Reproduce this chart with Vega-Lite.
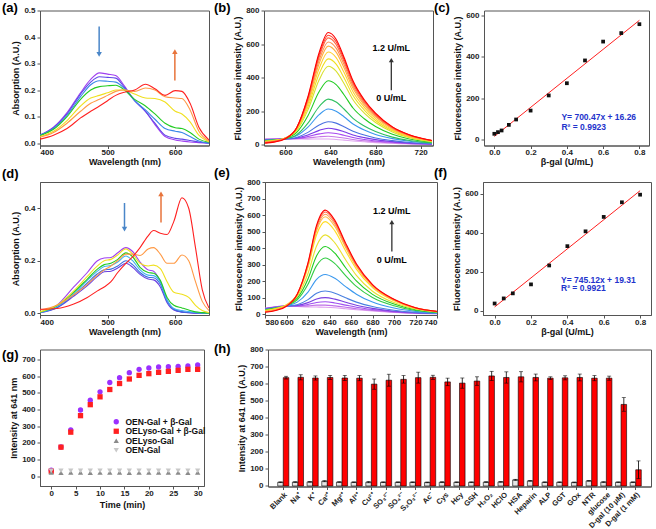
{
"$schema":"https://vega.github.io/schema/vega-lite/v6.json",
"padding":{"left":1,"top":0.5,"right":0,"bottom":0},
"background":"white",
"config":{
 "font":"Liberation Sans",
 "view":{"stroke":"#555","strokeWidth":1},
 "axis":{"domainColor":"#555","tickColor":"#555","tickSize":3,"labelFont":"Liberation Sans","labelFontSize":8,"labelFontWeight":"bold","labelColor":"#222","titleFont":"Liberation Sans","titleFontSize":9,"titleFontWeight":"bold","titleColor":"#111","grid":false,"labelPadding":2,"titlePadding":3,"labelOverlap":false},
 "axisX":{"labelPadding":0,"titlePadding":1},
 "title":{"font":"Liberation Sans","fontSize":13,"fontWeight":"bold","anchor":"start","frame":"group","color":"#000","offset":0,"baseline":"alphabetic"},
 "legend":{"labelFont":"Liberation Sans"}
},
"datasets":{
"ac":[
{"s":"a1","x":400,"y":0.03},{"s":"a1","x":420,"y":0.06},{"s":"a1","x":440,"y":0.115},{"s":"a1","x":460,"y":0.19},{"s":"a1","x":475,"y":0.24},{"s":"a1","x":488,"y":0.265},{"s":"a1","x":500,"y":0.26},{"s":"a1","x":512,"y":0.255},{"s":"a1","x":525,"y":0.215},{"s":"a1","x":540,"y":0.16},{"s":"a1","x":556,"y":0.12},{"s":"a1","x":570,"y":0.07},{"s":"a1","x":585,"y":0.025},{"s":"a1","x":600,"y":0.012},{"s":"a1","x":610,"y":0.008},{"s":"a1","x":622,"y":0.004},{"s":"a1","x":635,"y":0.002},{"s":"a1","x":650,"y":0},
{"s":"a2","x":400,"y":0.03},{"s":"a2","x":420,"y":0.058},{"s":"a2","x":440,"y":0.11},{"s":"a2","x":460,"y":0.185},{"s":"a2","x":475,"y":0.23},{"s":"a2","x":488,"y":0.25},{"s":"a2","x":500,"y":0.248},{"s":"a2","x":512,"y":0.245},{"s":"a2","x":525,"y":0.21},{"s":"a2","x":540,"y":0.16},{"s":"a2","x":556,"y":0.12},{"s":"a2","x":570,"y":0.075},{"s":"a2","x":585,"y":0.03},{"s":"a2","x":600,"y":0.018},{"s":"a2","x":610,"y":0.015},{"s":"a2","x":622,"y":0.01},{"s":"a2","x":635,"y":0.004},{"s":"a2","x":650,"y":0},
{"s":"a3","x":400,"y":0.03},{"s":"a3","x":420,"y":0.055},{"s":"a3","x":440,"y":0.105},{"s":"a3","x":460,"y":0.175},{"s":"a3","x":475,"y":0.22},{"s":"a3","x":488,"y":0.235},{"s":"a3","x":500,"y":0.233},{"s":"a3","x":512,"y":0.23},{"s":"a3","x":525,"y":0.205},{"s":"a3","x":540,"y":0.16},{"s":"a3","x":556,"y":0.125},{"s":"a3","x":570,"y":0.09},{"s":"a3","x":585,"y":0.055},{"s":"a3","x":600,"y":0.045},{"s":"a3","x":610,"y":0.04},{"s":"a3","x":622,"y":0.025},{"s":"a3","x":635,"y":0.008},{"s":"a3","x":650,"y":0},
{"s":"a4","x":400,"y":0.028},{"s":"a4","x":420,"y":0.052},{"s":"a4","x":440,"y":0.1},{"s":"a4","x":460,"y":0.165},{"s":"a4","x":475,"y":0.2},{"s":"a4","x":488,"y":0.213},{"s":"a4","x":500,"y":0.216},{"s":"a4","x":512,"y":0.218},{"s":"a4","x":525,"y":0.2},{"s":"a4","x":540,"y":0.165},{"s":"a4","x":556,"y":0.14},{"s":"a4","x":570,"y":0.11},{"s":"a4","x":585,"y":0.075},{"s":"a4","x":600,"y":0.058},{"s":"a4","x":610,"y":0.055},{"s":"a4","x":622,"y":0.04},{"s":"a4","x":635,"y":0.015},{"s":"a4","x":650,"y":0.003},
{"s":"a5","x":400,"y":0.025},{"s":"a5","x":420,"y":0.045},{"s":"a5","x":440,"y":0.085},{"s":"a5","x":460,"y":0.14},{"s":"a5","x":475,"y":0.17},{"s":"a5","x":488,"y":0.18},{"s":"a5","x":500,"y":0.19},{"s":"a5","x":512,"y":0.2},{"s":"a5","x":525,"y":0.2},{"s":"a5","x":540,"y":0.185},{"s":"a5","x":556,"y":0.17},{"s":"a5","x":570,"y":0.168},{"s":"a5","x":585,"y":0.155},{"s":"a5","x":600,"y":0.12},{"s":"a5","x":610,"y":0.11},{"s":"a5","x":622,"y":0.08},{"s":"a5","x":635,"y":0.03},{"s":"a5","x":650,"y":0.005},
{"s":"a6","x":400,"y":0.022},{"s":"a6","x":420,"y":0.04},{"s":"a6","x":440,"y":0.075},{"s":"a6","x":460,"y":0.12},{"s":"a6","x":475,"y":0.15},{"s":"a6","x":488,"y":0.165},{"s":"a6","x":500,"y":0.18},{"s":"a6","x":512,"y":0.195},{"s":"a6","x":525,"y":0.2},{"s":"a6","x":540,"y":0.195},{"s":"a6","x":556,"y":0.208},{"s":"a6","x":570,"y":0.2},{"s":"a6","x":585,"y":0.175},{"s":"a6","x":600,"y":0.17},{"s":"a6","x":610,"y":0.168},{"s":"a6","x":622,"y":0.125},{"s":"a6","x":635,"y":0.045},{"s":"a6","x":650,"y":0.008},
{"s":"a7","x":400,"y":0.015},{"s":"a7","x":420,"y":0.03},{"s":"a7","x":440,"y":0.055},{"s":"a7","x":460,"y":0.095},{"s":"a7","x":475,"y":0.12},{"s":"a7","x":488,"y":0.14},{"s":"a7","x":500,"y":0.16},{"s":"a7","x":512,"y":0.18},{"s":"a7","x":525,"y":0.192},{"s":"a7","x":540,"y":0.2},{"s":"a7","x":556,"y":0.222},{"s":"a7","x":570,"y":0.205},{"s":"a7","x":585,"y":0.18},{"s":"a7","x":600,"y":0.198},{"s":"a7","x":610,"y":0.195},{"s":"a7","x":622,"y":0.15},{"s":"a7","x":635,"y":0.06},{"s":"a7","x":650,"y":0.012}
],
"bc":[
{"s":"b01","x":582,"y":35},{"s":"b01","x":590,"y":36},{"s":"b01","x":600,"y":37},{"s":"b01","x":610,"y":36},{"s":"b01","x":620,"y":35},{"s":"b01","x":630,"y":36},{"s":"b01","x":638,"y":36},{"s":"b01","x":645,"y":33},{"s":"b01","x":652,"y":29},{"s":"b01","x":660,"y":24},{"s":"b01","x":670,"y":19},{"s":"b01","x":680,"y":14},{"s":"b01","x":695,"y":10},{"s":"b01","x":710,"y":6},{"s":"b01","x":730,"y":3},
{"s":"b02","x":582,"y":35},{"s":"b02","x":590,"y":36},{"s":"b02","x":600,"y":37},{"s":"b02","x":610,"y":38},{"s":"b02","x":620,"y":42},{"s":"b02","x":630,"y":49},{"s":"b02","x":638,"y":52},{"s":"b02","x":645,"y":48},{"s":"b02","x":652,"y":42},{"s":"b02","x":660,"y":33},{"s":"b02","x":670,"y":25},{"s":"b02","x":680,"y":19},{"s":"b02","x":695,"y":12},{"s":"b02","x":710,"y":8},{"s":"b02","x":730,"y":4},
{"s":"b03","x":582,"y":33},{"s":"b03","x":590,"y":35},{"s":"b03","x":600,"y":36},{"s":"b03","x":610,"y":39},{"s":"b03","x":620,"y":50},{"s":"b03","x":630,"y":66},{"s":"b03","x":638,"y":73},{"s":"b03","x":645,"y":68},{"s":"b03","x":652,"y":58},{"s":"b03","x":660,"y":45},{"s":"b03","x":670,"y":33},{"s":"b03","x":680,"y":24},{"s":"b03","x":695,"y":16},{"s":"b03","x":710,"y":9},{"s":"b03","x":730,"y":5},
{"s":"b04","x":582,"y":32},{"s":"b04","x":590,"y":33},{"s":"b04","x":600,"y":36},{"s":"b04","x":610,"y":42},{"s":"b04","x":620,"y":60},{"s":"b04","x":630,"y":87},{"s":"b04","x":638,"y":100},{"s":"b04","x":645,"y":93},{"s":"b04","x":652,"y":79},{"s":"b04","x":660,"y":60},{"s":"b04","x":670,"y":44},{"s":"b04","x":680,"y":32},{"s":"b04","x":695,"y":20},{"s":"b04","x":710,"y":12},{"s":"b04","x":730,"y":6},
{"s":"b05","x":582,"y":30},{"s":"b05","x":590,"y":32},{"s":"b05","x":600,"y":35},{"s":"b05","x":610,"y":45},{"s":"b05","x":620,"y":75},{"s":"b05","x":630,"y":119},{"s":"b05","x":638,"y":138},{"s":"b05","x":645,"y":130},{"s":"b05","x":652,"y":109},{"s":"b05","x":660,"y":82},{"s":"b05","x":670,"y":59},{"s":"b05","x":680,"y":42},{"s":"b05","x":695,"y":26},{"s":"b05","x":710,"y":15},{"s":"b05","x":730,"y":7},
{"s":"b06","x":582,"y":28},{"s":"b06","x":590,"y":31},{"s":"b06","x":600,"y":37},{"s":"b06","x":610,"y":55},{"s":"b06","x":620,"y":106},{"s":"b06","x":630,"y":181},{"s":"b06","x":638,"y":214},{"s":"b06","x":645,"y":201},{"s":"b06","x":652,"y":168},{"s":"b06","x":660,"y":125},{"s":"b06","x":670,"y":89},{"s":"b06","x":680,"y":63},{"s":"b06","x":695,"y":38},{"s":"b06","x":710,"y":22},{"s":"b06","x":730,"y":10},
{"s":"b07","x":582,"y":26},{"s":"b07","x":590,"y":30},{"s":"b07","x":600,"y":37},{"s":"b07","x":610,"y":61},{"s":"b07","x":620,"y":130},{"s":"b07","x":630,"y":229},{"s":"b07","x":638,"y":273},{"s":"b07","x":645,"y":256},{"s":"b07","x":652,"y":214},{"s":"b07","x":660,"y":158},{"s":"b07","x":670,"y":113},{"s":"b07","x":680,"y":80},{"s":"b07","x":695,"y":47},{"s":"b07","x":710,"y":27},{"s":"b07","x":730,"y":12},
{"s":"b08","x":582,"y":25},{"s":"b08","x":590,"y":29},{"s":"b08","x":600,"y":40},{"s":"b08","x":610,"y":75},{"s":"b08","x":620,"y":174},{"s":"b08","x":630,"y":318},{"s":"b08","x":638,"y":382},{"s":"b08","x":645,"y":359},{"s":"b08","x":652,"y":299},{"s":"b08","x":660,"y":220},{"s":"b08","x":670,"y":156},{"s":"b08","x":680,"y":110},{"s":"b08","x":695,"y":64},{"s":"b08","x":710,"y":36},{"s":"b08","x":730,"y":17},
{"s":"b09","x":582,"y":23},{"s":"b09","x":590,"y":28},{"s":"b09","x":600,"y":42},{"s":"b09","x":610,"y":85},{"s":"b09","x":620,"y":209},{"s":"b09","x":630,"y":388},{"s":"b09","x":638,"y":468},{"s":"b09","x":645,"y":439},{"s":"b09","x":652,"y":366},{"s":"b09","x":660,"y":269},{"s":"b09","x":670,"y":190},{"s":"b09","x":680,"y":134},{"s":"b09","x":695,"y":78},{"s":"b09","x":710,"y":44},{"s":"b09","x":730,"y":20},
{"s":"b10","x":582,"y":21},{"s":"b10","x":590,"y":27},{"s":"b10","x":600,"y":42},{"s":"b10","x":610,"y":90},{"s":"b10","x":620,"y":227},{"s":"b10","x":630,"y":424},{"s":"b10","x":638,"y":512},{"s":"b10","x":645,"y":481},{"s":"b10","x":652,"y":400},{"s":"b10","x":660,"y":294},{"s":"b10","x":670,"y":208},{"s":"b10","x":680,"y":146},{"s":"b10","x":695,"y":85},{"s":"b10","x":710,"y":48},{"s":"b10","x":730,"y":22},
{"s":"b11","x":582,"y":19},{"s":"b11","x":590,"y":25},{"s":"b11","x":600,"y":41},{"s":"b11","x":610,"y":94},{"s":"b11","x":620,"y":243},{"s":"b11","x":630,"y":457},{"s":"b11","x":638,"y":553},{"s":"b11","x":645,"y":520},{"s":"b11","x":652,"y":432},{"s":"b11","x":660,"y":317},{"s":"b11","x":670,"y":224},{"s":"b11","x":680,"y":157},{"s":"b11","x":695,"y":91},{"s":"b11","x":710,"y":51},{"s":"b11","x":730,"y":23},
{"s":"b12","x":582,"y":18},{"s":"b12","x":590,"y":24},{"s":"b12","x":600,"y":41},{"s":"b12","x":610,"y":98},{"s":"b12","x":620,"y":257},{"s":"b12","x":630,"y":485},{"s":"b12","x":638,"y":588},{"s":"b12","x":645,"y":552},{"s":"b12","x":652,"y":459},{"s":"b12","x":660,"y":337},{"s":"b12","x":670,"y":237},{"s":"b12","x":680,"y":167},{"s":"b12","x":695,"y":96},{"s":"b12","x":710,"y":54},{"s":"b12","x":730,"y":25},
{"s":"b13","x":582,"y":16},{"s":"b13","x":590,"y":22},{"s":"b13","x":600,"y":40},{"s":"b13","x":610,"y":100},{"s":"b13","x":620,"y":266},{"s":"b13","x":630,"y":505},{"s":"b13","x":638,"y":613},{"s":"b13","x":645,"y":576},{"s":"b13","x":652,"y":479},{"s":"b13","x":660,"y":351},{"s":"b13","x":670,"y":247},{"s":"b13","x":680,"y":174},{"s":"b13","x":695,"y":100},{"s":"b13","x":710,"y":56},{"s":"b13","x":730,"y":26},
{"s":"b14","x":582,"y":14},{"s":"b14","x":590,"y":21},{"s":"b14","x":600,"y":40},{"s":"b14","x":610,"y":101},{"s":"b14","x":620,"y":275},{"s":"b14","x":630,"y":525},{"s":"b14","x":638,"y":637},{"s":"b14","x":645,"y":598},{"s":"b14","x":652,"y":497},{"s":"b14","x":660,"y":364},{"s":"b14","x":670,"y":256},{"s":"b14","x":680,"y":180},{"s":"b14","x":695,"y":104},{"s":"b14","x":710,"y":58},{"s":"b14","x":730,"y":26},
{"s":"b15","x":582,"y":12},{"s":"b15","x":590,"y":19},{"s":"b15","x":600,"y":38},{"s":"b15","x":610,"y":102},{"s":"b15","x":620,"y":281},{"s":"b15","x":630,"y":538},{"s":"b15","x":638,"y":653},{"s":"b15","x":645,"y":614},{"s":"b15","x":652,"y":510},{"s":"b15","x":660,"y":374},{"s":"b15","x":670,"y":263},{"s":"b15","x":680,"y":185},{"s":"b15","x":695,"y":106},{"s":"b15","x":710,"y":60},{"s":"b15","x":730,"y":27},
{"s":"b16","x":582,"y":11},{"s":"b16","x":590,"y":17},{"s":"b16","x":600,"y":37},{"s":"b16","x":610,"y":103},{"s":"b16","x":620,"y":287},{"s":"b16","x":630,"y":551},{"s":"b16","x":638,"y":669},{"s":"b16","x":645,"y":629},{"s":"b16","x":652,"y":522},{"s":"b16","x":660,"y":382},{"s":"b16","x":670,"y":269},{"s":"b16","x":680,"y":189},{"s":"b16","x":695,"y":108},{"s":"b16","x":710,"y":61},{"s":"b16","x":730,"y":27}
],
"dc":[
{"s":"d1","x":400,"y":0.002},{"s":"d1","x":425,"y":0.03},{"s":"d1","x":450,"y":0.1},{"s":"d1","x":470,"y":0.155},{"s":"d1","x":485,"y":0.2},{"s":"d1","x":495,"y":0.21},{"s":"d1","x":505,"y":0.212},{"s":"d1","x":515,"y":0.23},{"s":"d1","x":527,"y":0.25},{"s":"d1","x":537,"y":0.235},{"s":"d1","x":548,"y":0.195},{"s":"d1","x":560,"y":0.165},{"s":"d1","x":568,"y":0.16},{"s":"d1","x":578,"y":0.12},{"s":"d1","x":588,"y":0.05},{"s":"d1","x":598,"y":0.015},{"s":"d1","x":610,"y":0.005},{"s":"d1","x":620,"y":0.002},{"s":"d1","x":630,"y":0.001},{"s":"d1","x":640,"y":0},{"s":"d1","x":650,"y":0},
{"s":"d2","x":400,"y":0.002},{"s":"d2","x":425,"y":0.02},{"s":"d2","x":450,"y":0.065},{"s":"d2","x":470,"y":0.105},{"s":"d2","x":485,"y":0.14},{"s":"d2","x":495,"y":0.158},{"s":"d2","x":505,"y":0.16},{"s":"d2","x":515,"y":0.172},{"s":"d2","x":527,"y":0.19},{"s":"d2","x":537,"y":0.175},{"s":"d2","x":548,"y":0.148},{"s":"d2","x":560,"y":0.13},{"s":"d2","x":568,"y":0.127},{"s":"d2","x":578,"y":0.1},{"s":"d2","x":588,"y":0.04},{"s":"d2","x":598,"y":0.012},{"s":"d2","x":610,"y":0.004},{"s":"d2","x":620,"y":0.002},{"s":"d2","x":630,"y":0},{"s":"d2","x":640,"y":0},{"s":"d2","x":650,"y":0},
{"s":"d3","x":400,"y":0.003},{"s":"d3","x":425,"y":0.022},{"s":"d3","x":450,"y":0.07},{"s":"d3","x":470,"y":0.115},{"s":"d3","x":485,"y":0.15},{"s":"d3","x":495,"y":0.165},{"s":"d3","x":505,"y":0.168},{"s":"d3","x":515,"y":0.18},{"s":"d3","x":527,"y":0.2},{"s":"d3","x":537,"y":0.185},{"s":"d3","x":548,"y":0.155},{"s":"d3","x":560,"y":0.137},{"s":"d3","x":568,"y":0.135},{"s":"d3","x":578,"y":0.11},{"s":"d3","x":588,"y":0.045},{"s":"d3","x":598,"y":0.015},{"s":"d3","x":610,"y":0.005},{"s":"d3","x":620,"y":0.003},{"s":"d3","x":630,"y":0.001},{"s":"d3","x":640,"y":0},{"s":"d3","x":650,"y":0},
{"s":"d4","x":400,"y":0.003},{"s":"d4","x":425,"y":0.025},{"s":"d4","x":450,"y":0.075},{"s":"d4","x":470,"y":0.125},{"s":"d4","x":485,"y":0.16},{"s":"d4","x":495,"y":0.178},{"s":"d4","x":505,"y":0.182},{"s":"d4","x":515,"y":0.195},{"s":"d4","x":527,"y":0.218},{"s":"d4","x":537,"y":0.2},{"s":"d4","x":548,"y":0.165},{"s":"d4","x":560,"y":0.145},{"s":"d4","x":568,"y":0.143},{"s":"d4","x":578,"y":0.118},{"s":"d4","x":588,"y":0.05},{"s":"d4","x":598,"y":0.018},{"s":"d4","x":610,"y":0.01},{"s":"d4","x":620,"y":0.006},{"s":"d4","x":630,"y":0.003},{"s":"d4","x":640,"y":0.001},{"s":"d4","x":650,"y":0},
{"s":"d5","x":400,"y":0.004},{"s":"d5","x":425,"y":0.028},{"s":"d5","x":450,"y":0.08},{"s":"d5","x":470,"y":0.13},{"s":"d5","x":485,"y":0.168},{"s":"d5","x":495,"y":0.185},{"s":"d5","x":505,"y":0.19},{"s":"d5","x":515,"y":0.205},{"s":"d5","x":527,"y":0.23},{"s":"d5","x":537,"y":0.215},{"s":"d5","x":548,"y":0.175},{"s":"d5","x":560,"y":0.155},{"s":"d5","x":568,"y":0.152},{"s":"d5","x":578,"y":0.125},{"s":"d5","x":588,"y":0.06},{"s":"d5","x":598,"y":0.03},{"s":"d5","x":610,"y":0.02},{"s":"d5","x":620,"y":0.012},{"s":"d5","x":630,"y":0.005},{"s":"d5","x":640,"y":0.002},{"s":"d5","x":650,"y":0},
{"s":"d6","x":400,"y":0.005},{"s":"d6","x":425,"y":0.03},{"s":"d6","x":450,"y":0.085},{"s":"d6","x":470,"y":0.14},{"s":"d6","x":485,"y":0.18},{"s":"d6","x":495,"y":0.2},{"s":"d6","x":505,"y":0.205},{"s":"d6","x":515,"y":0.222},{"s":"d6","x":527,"y":0.245},{"s":"d6","x":537,"y":0.225},{"s":"d6","x":548,"y":0.19},{"s":"d6","x":560,"y":0.18},{"s":"d6","x":568,"y":0.183},{"s":"d6","x":578,"y":0.17},{"s":"d6","x":588,"y":0.12},{"s":"d6","x":598,"y":0.08},{"s":"d6","x":610,"y":0.072},{"s":"d6","x":620,"y":0.06},{"s":"d6","x":630,"y":0.03},{"s":"d6","x":640,"y":0.01},{"s":"d6","x":650,"y":0.002},
{"s":"d7","x":400,"y":0.012},{"s":"d7","x":425,"y":0.03},{"s":"d7","x":450,"y":0.07},{"s":"d7","x":470,"y":0.11},{"s":"d7","x":485,"y":0.145},{"s":"d7","x":495,"y":0.165},{"s":"d7","x":505,"y":0.18},{"s":"d7","x":515,"y":0.2},{"s":"d7","x":527,"y":0.225},{"s":"d7","x":537,"y":0.225},{"s":"d7","x":548,"y":0.22},{"s":"d7","x":560,"y":0.245},{"s":"d7","x":568,"y":0.25},{"s":"d7","x":578,"y":0.225},{"s":"d7","x":588,"y":0.19},{"s":"d7","x":598,"y":0.19},{"s":"d7","x":610,"y":0.222},{"s":"d7","x":620,"y":0.2},{"s":"d7","x":630,"y":0.12},{"s":"d7","x":640,"y":0.045},{"s":"d7","x":650,"y":0.01},
{"s":"d8","x":400,"y":0.015},{"s":"d8","x":425,"y":0.018},{"s":"d8","x":450,"y":0.035},{"s":"d8","x":470,"y":0.06},{"s":"d8","x":485,"y":0.085},{"s":"d8","x":495,"y":0.1},{"s":"d8","x":505,"y":0.12},{"s":"d8","x":515,"y":0.155},{"s":"d8","x":527,"y":0.19},{"s":"d8","x":537,"y":0.215},{"s":"d8","x":548,"y":0.25},{"s":"d8","x":560,"y":0.295},{"s":"d8","x":568,"y":0.315},{"s":"d8","x":578,"y":0.305},{"s":"d8","x":588,"y":0.3},{"s":"d8","x":598,"y":0.35},{"s":"d8","x":610,"y":0.44},{"s":"d8","x":620,"y":0.4},{"s":"d8","x":630,"y":0.25},{"s":"d8","x":640,"y":0.09},{"s":"d8","x":650,"y":0.02}
],
"ec":[
{"s":"e01","x":580,"y":35},{"s":"e01","x":590,"y":45},{"s":"e01","x":600,"y":50},{"s":"e01","x":610,"y":47},{"s":"e01","x":620,"y":44},{"s":"e01","x":628,"y":43},{"s":"e01","x":636,"y":42},{"s":"e01","x":645,"y":39},{"s":"e01","x":655,"y":33},{"s":"e01","x":665,"y":27},{"s":"e01","x":680,"y":19},{"s":"e01","x":700,"y":11},{"s":"e01","x":720,"y":5},{"s":"e01","x":740,"y":3},
{"s":"e02","x":580,"y":35},{"s":"e02","x":590,"y":45},{"s":"e02","x":600,"y":51},{"s":"e02","x":610,"y":49},{"s":"e02","x":620,"y":50},{"s":"e02","x":628,"y":55},{"s":"e02","x":636,"y":55},{"s":"e02","x":645,"y":50},{"s":"e02","x":655,"y":42},{"s":"e02","x":665,"y":33},{"s":"e02","x":680,"y":23},{"s":"e02","x":700,"y":12},{"s":"e02","x":720,"y":6},{"s":"e02","x":740,"y":3},
{"s":"e03","x":580,"y":33},{"s":"e03","x":590,"y":43},{"s":"e03","x":600,"y":50},{"s":"e03","x":610,"y":50},{"s":"e03","x":620,"y":59},{"s":"e03","x":628,"y":71},{"s":"e03","x":636,"y":75},{"s":"e03","x":645,"y":68},{"s":"e03","x":655,"y":55},{"s":"e03","x":665,"y":42},{"s":"e03","x":680,"y":28},{"s":"e03","x":700,"y":15},{"s":"e03","x":720,"y":7},{"s":"e03","x":740,"y":4},
{"s":"e04","x":580,"y":32},{"s":"e04","x":590,"y":41},{"s":"e04","x":600,"y":48},{"s":"e04","x":610,"y":53},{"s":"e04","x":620,"y":70},{"s":"e04","x":628,"y":92},{"s":"e04","x":636,"y":100},{"s":"e04","x":645,"y":91},{"s":"e04","x":655,"y":72},{"s":"e04","x":665,"y":54},{"s":"e04","x":680,"y":35},{"s":"e04","x":700,"y":18},{"s":"e04","x":720,"y":9},{"s":"e04","x":740,"y":4},
{"s":"e05","x":580,"y":30},{"s":"e05","x":590,"y":39},{"s":"e05","x":600,"y":48},{"s":"e05","x":610,"y":57},{"s":"e05","x":620,"y":88},{"s":"e05","x":628,"y":126},{"s":"e05","x":636,"y":140},{"s":"e05","x":645,"y":127},{"s":"e05","x":655,"y":99},{"s":"e05","x":665,"y":73},{"s":"e05","x":680,"y":46},{"s":"e05","x":700,"y":24},{"s":"e05","x":720,"y":11},{"s":"e05","x":740,"y":5},
{"s":"e06","x":580,"y":28},{"s":"e06","x":590,"y":38},{"s":"e06","x":600,"y":51},{"s":"e06","x":610,"y":73},{"s":"e06","x":620,"y":134},{"s":"e06","x":628,"y":211},{"s":"e06","x":636,"y":240},{"s":"e06","x":645,"y":217},{"s":"e06","x":655,"y":167},{"s":"e06","x":665,"y":121},{"s":"e06","x":680,"y":73},{"s":"e06","x":700,"y":37},{"s":"e06","x":720,"y":17},{"s":"e06","x":740,"y":8},
{"s":"e07","x":580,"y":26},{"s":"e07","x":590,"y":37},{"s":"e07","x":600,"y":53},{"s":"e07","x":610,"y":87},{"s":"e07","x":620,"y":181},{"s":"e07","x":628,"y":294},{"s":"e07","x":636,"y":340},{"s":"e07","x":645,"y":306},{"s":"e07","x":655,"y":234},{"s":"e07","x":665,"y":168},{"s":"e07","x":680,"y":101},{"s":"e07","x":700,"y":51},{"s":"e07","x":720,"y":22},{"s":"e07","x":740,"y":10},
{"s":"e08","x":580,"y":25},{"s":"e08","x":590,"y":35},{"s":"e08","x":600,"y":54},{"s":"e08","x":610,"y":97},{"s":"e08","x":620,"y":213},{"s":"e08","x":628,"y":354},{"s":"e08","x":636,"y":410},{"s":"e08","x":645,"y":369},{"s":"e08","x":655,"y":281},{"s":"e08","x":665,"y":201},{"s":"e08","x":680,"y":120},{"s":"e08","x":700,"y":61},{"s":"e08","x":720,"y":27},{"s":"e08","x":740,"y":12},
{"s":"e09","x":580,"y":23},{"s":"e09","x":590,"y":34},{"s":"e09","x":600,"y":55},{"s":"e09","x":610,"y":107},{"s":"e09","x":620,"y":246},{"s":"e09","x":628,"y":413},{"s":"e09","x":636,"y":480},{"s":"e09","x":645,"y":432},{"s":"e09","x":655,"y":329},{"s":"e09","x":665,"y":235},{"s":"e09","x":680,"y":139},{"s":"e09","x":700,"y":70},{"s":"e09","x":720,"y":31},{"s":"e09","x":740,"y":13},
{"s":"e10","x":580,"y":21},{"s":"e10","x":590,"y":32},{"s":"e10","x":600,"y":57},{"s":"e10","x":610,"y":119},{"s":"e10","x":620,"y":283},{"s":"e10","x":628,"y":481},{"s":"e10","x":636,"y":560},{"s":"e10","x":645,"y":504},{"s":"e10","x":655,"y":383},{"s":"e10","x":665,"y":273},{"s":"e10","x":680,"y":161},{"s":"e10","x":700,"y":81},{"s":"e10","x":720,"y":35},{"s":"e10","x":740,"y":15},
{"s":"e11","x":580,"y":18},{"s":"e11","x":590,"y":28},{"s":"e11","x":600,"y":54},{"s":"e11","x":610,"y":120},{"s":"e11","x":620,"y":295},{"s":"e11","x":628,"y":505},{"s":"e11","x":636,"y":590},{"s":"e11","x":645,"y":531},{"s":"e11","x":655,"y":403},{"s":"e11","x":665,"y":287},{"s":"e11","x":680,"y":169},{"s":"e11","x":700,"y":85},{"s":"e11","x":720,"y":37},{"s":"e11","x":740,"y":16},
{"s":"e12","x":580,"y":16},{"s":"e12","x":590,"y":26},{"s":"e12","x":600,"y":52},{"s":"e12","x":610,"y":121},{"s":"e12","x":620,"y":301},{"s":"e12","x":628,"y":518},{"s":"e12","x":636,"y":605},{"s":"e12","x":645,"y":545},{"s":"e12","x":655,"y":413},{"s":"e12","x":665,"y":294},{"s":"e12","x":680,"y":173},{"s":"e12","x":700,"y":87},{"s":"e12","x":720,"y":38},{"s":"e12","x":740,"y":16},
{"s":"e13","x":580,"y":14},{"s":"e13","x":590,"y":24},{"s":"e13","x":600,"y":50},{"s":"e13","x":610,"y":121},{"s":"e13","x":620,"y":306},{"s":"e13","x":628,"y":529},{"s":"e13","x":636,"y":618},{"s":"e13","x":645,"y":557},{"s":"e13","x":655,"y":422},{"s":"e13","x":665,"y":299},{"s":"e13","x":680,"y":176},{"s":"e13","x":700,"y":88},{"s":"e13","x":720,"y":38},{"s":"e13","x":740,"y":16},
{"s":"e14","x":580,"y":12},{"s":"e14","x":590,"y":22},{"s":"e14","x":600,"y":48},{"s":"e14","x":610,"y":121},{"s":"e14","x":620,"y":311},{"s":"e14","x":628,"y":539},{"s":"e14","x":636,"y":630},{"s":"e14","x":645,"y":568},{"s":"e14","x":655,"y":430},{"s":"e14","x":665,"y":305},{"s":"e14","x":680,"y":179},{"s":"e14","x":700,"y":90},{"s":"e14","x":720,"y":39},{"s":"e14","x":740,"y":17}
],
"cp":[{"x":0,"y":29},{"x":0.02,"y":37},{"x":0.04,"y":45},{"x":0.08,"y":72},{"x":0.12,"y":98},{"x":0.2,"y":141},{"x":0.3,"y":214},{"x":0.4,"y":273},{"x":0.5,"y":383},{"x":0.6,"y":474},{"x":0.7,"y":515},{"x":0.8,"y":558}],
"cl":[{"x":0,"y":16.26},{"x":0.8,"y":576.64}],
"fp":[{"x":0,"y":37},{"x":0.05,"y":63},{"x":0.1,"y":89},{"x":0.2,"y":135},{"x":0.3,"y":232},{"x":0.4,"y":331},{"x":0.5,"y":407},{"x":0.6,"y":481},{"x":0.7,"y":556},{"x":0.8,"y":595}],
"fl":[{"x":0,"y":19.31},{"x":0.8,"y":615.41}],
"gd":[
{"s":"OEN-Gal + β-Gal","t":0,"y":36},{"s":"OEN-Gal + β-Gal","t":2,"y":175},{"s":"OEN-Gal + β-Gal","t":4,"y":278},{"s":"OEN-Gal + β-Gal","t":6,"y":397},{"s":"OEN-Gal + β-Gal","t":8,"y":456},{"s":"OEN-Gal + β-Gal","t":10,"y":506},{"s":"OEN-Gal + β-Gal","t":12,"y":562},{"s":"OEN-Gal + β-Gal","t":14,"y":591},{"s":"OEN-Gal + β-Gal","t":16,"y":621},{"s":"OEN-Gal + β-Gal","t":18,"y":641},{"s":"OEN-Gal + β-Gal","t":20,"y":649},{"s":"OEN-Gal + β-Gal","t":22,"y":655},{"s":"OEN-Gal + β-Gal","t":24,"y":657},{"s":"OEN-Gal + β-Gal","t":26,"y":659},{"s":"OEN-Gal + β-Gal","t":28,"y":661},{"s":"OEN-Gal + β-Gal","t":30,"y":667},
{"s":"OELyso-Gal + β-Gal","t":0,"y":30},{"s":"OELyso-Gal + β-Gal","t":2,"y":174},{"s":"OELyso-Gal + β-Gal","t":4,"y":264},{"s":"OELyso-Gal + β-Gal","t":6,"y":363},{"s":"OELyso-Gal + β-Gal","t":8,"y":429},{"s":"OELyso-Gal + β-Gal","t":10,"y":476},{"s":"OELyso-Gal + β-Gal","t":12,"y":520},{"s":"OELyso-Gal + β-Gal","t":14,"y":556},{"s":"OELyso-Gal + β-Gal","t":16,"y":583},{"s":"OELyso-Gal + β-Gal","t":18,"y":605},{"s":"OELyso-Gal + β-Gal","t":20,"y":615},{"s":"OELyso-Gal + β-Gal","t":22,"y":623},{"s":"OELyso-Gal + β-Gal","t":24,"y":629},{"s":"OELyso-Gal + β-Gal","t":26,"y":635},{"s":"OELyso-Gal + β-Gal","t":28,"y":641},{"s":"OELyso-Gal + β-Gal","t":30,"y":641},
{"s":"OELyso-Gal","t":0,"y":22},{"s":"OELyso-Gal","t":2,"y":21},{"s":"OELyso-Gal","t":4,"y":22},{"s":"OELyso-Gal","t":6,"y":22},{"s":"OELyso-Gal","t":8,"y":21},{"s":"OELyso-Gal","t":10,"y":22},{"s":"OELyso-Gal","t":12,"y":22},{"s":"OELyso-Gal","t":14,"y":22},{"s":"OELyso-Gal","t":16,"y":21},{"s":"OELyso-Gal","t":18,"y":22},{"s":"OELyso-Gal","t":20,"y":22},{"s":"OELyso-Gal","t":22,"y":22},{"s":"OELyso-Gal","t":24,"y":22},{"s":"OELyso-Gal","t":26,"y":22},{"s":"OELyso-Gal","t":28,"y":21},{"s":"OELyso-Gal","t":30,"y":22},
{"s":"OEN-Gal","t":0,"y":33},{"s":"OEN-Gal","t":2,"y":32},{"s":"OEN-Gal","t":4,"y":33},{"s":"OEN-Gal","t":6,"y":33},{"s":"OEN-Gal","t":8,"y":32},{"s":"OEN-Gal","t":10,"y":33},{"s":"OEN-Gal","t":12,"y":33},{"s":"OEN-Gal","t":14,"y":33},{"s":"OEN-Gal","t":16,"y":32},{"s":"OEN-Gal","t":18,"y":33},{"s":"OEN-Gal","t":20,"y":33},{"s":"OEN-Gal","t":22,"y":33},{"s":"OEN-Gal","t":24,"y":33},{"s":"OEN-Gal","t":26,"y":33},{"s":"OEN-Gal","t":28,"y":33},{"s":"OEN-Gal","t":30,"y":33}
],
"hd":[
{"sp":"Blank","t":"g","v":22,"lo":20,"hi":24},{"sp":"Blank","t":"r","v":635,"lo":627,"hi":643},
{"sp":"Na⁺","t":"g","v":23,"lo":21,"hi":25},{"sp":"Na⁺","t":"r","v":637,"lo":622,"hi":652},
{"sp":"K⁺","t":"g","v":24,"lo":22,"hi":26},{"sp":"K⁺","t":"r","v":633,"lo":621,"hi":645},
{"sp":"Ca²⁺","t":"g","v":28,"lo":25,"hi":31},{"sp":"Ca²⁺","t":"r","v":636,"lo":624,"hi":648},
{"sp":"Mg²⁺","t":"g","v":23,"lo":21,"hi":25},{"sp":"Mg²⁺","t":"r","v":633,"lo":618,"hi":648},
{"sp":"Al³⁺","t":"g","v":22,"lo":20,"hi":24},{"sp":"Al³⁺","t":"r","v":632,"lo":617,"hi":647},
{"sp":"Cu²⁺","t":"g","v":22,"lo":19,"hi":26},{"sp":"Cu²⁺","t":"r","v":597,"lo":567,"hi":627},
{"sp":"SO₃²⁻","t":"g","v":22,"lo":20,"hi":24},{"sp":"SO₃²⁻","t":"r","v":620,"lo":585,"hi":655},
{"sp":"SO₄²⁻","t":"g","v":22,"lo":20,"hi":24},{"sp":"SO₄²⁻","t":"r","v":625,"lo":603,"hi":647},
{"sp":"S₂O₃²⁻","t":"g","v":22,"lo":20,"hi":24},{"sp":"S₂O₃²⁻","t":"r","v":635,"lo":603,"hi":667},
{"sp":"Ac⁻","t":"g","v":21,"lo":19,"hi":23},{"sp":"Ac⁻","t":"r","v":637,"lo":625,"hi":649},
{"sp":"Cys","t":"g","v":22,"lo":20,"hi":25},{"sp":"Cys","t":"r","v":610,"lo":588,"hi":632},
{"sp":"Hcy","t":"g","v":22,"lo":20,"hi":24},{"sp":"Hcy","t":"r","v":603,"lo":573,"hi":633},
{"sp":"GSH","t":"g","v":22,"lo":20,"hi":24},{"sp":"GSH","t":"r","v":615,"lo":590,"hi":640},
{"sp":"H₂O₂","t":"g","v":23,"lo":21,"hi":25},{"sp":"H₂O₂","t":"r","v":645,"lo":618,"hi":672},
{"sp":"HClO","t":"g","v":24,"lo":22,"hi":26},{"sp":"HClO","t":"r","v":636,"lo":603,"hi":669},
{"sp":"HSA","t":"g","v":36,"lo":33,"hi":39},{"sp":"HSA","t":"r","v":640,"lo":610,"hi":670},
{"sp":"Heparin","t":"g","v":30,"lo":28,"hi":32},{"sp":"Heparin","t":"r","v":636,"lo":616,"hi":656},
{"sp":"ALP","t":"g","v":22,"lo":20,"hi":24},{"sp":"ALP","t":"r","v":632,"lo":624,"hi":640},
{"sp":"GGT","t":"g","v":22,"lo":20,"hi":24},{"sp":"GGT","t":"r","v":634,"lo":622,"hi":646},
{"sp":"GOx","t":"g","v":21,"lo":19,"hi":23},{"sp":"GOx","t":"r","v":636,"lo":616,"hi":656},
{"sp":"NTR","t":"g","v":30,"lo":28,"hi":32},{"sp":"NTR","t":"r","v":632,"lo":617,"hi":647},
{"sp":"glucose","t":"g","v":23,"lo":21,"hi":25},{"sp":"glucose","t":"r","v":632,"lo":620,"hi":644},
{"sp":"D-gal (10 μM)","t":"g","v":22,"lo":20,"hi":24},{"sp":"D-gal (10 μM)","t":"r","v":478,"lo":438,"hi":518},
{"sp":"D-gal (1 mM)","t":"g","v":22,"lo":20,"hi":24},{"sp":"D-gal (1 mM)","t":"r","v":95,"lo":43,"hi":147}
]
},
"spacing":-1.5,
"resolve":{"scale":{"color":"independent","shape":"independent"},"legend":{"color":"independent","shape":"independent"}},
"vconcat":[
{
 "hconcat":[
  {
   "width":169,"height":135,
   "title":{"text":"(a)","dx":-38,"dy":12},
   "encoding":{
    "x":{"field":"x","type":"quantitative","scale":{"domain":[400,650],"nice":false,"zero":false},"axis":{"values":[400,500,600],"title":"Wavelength (nm)","labelOverlap":false}},
    "y":{"field":"y","type":"quantitative","scale":{"domain":[-0.009,0.5],"nice":false,"zero":false},"axis":{"values":[0,0.1,0.2,0.3,0.4,0.5],"format":".1f","title":"Absorption (A.U.)","labelOverlap":false}}
   },
   "layer":[
    {"data":{"name":"ac"},"mark":{"type":"line","interpolate":"monotone","strokeWidth":1.1,"clip":true},
     "encoding":{"color":{"field":"s","type":"nominal","legend":null,"scale":{"domain":["a1","a2","a3","a4","a5","a6","a7"],"range":["#a040f0","#6048e8","#3a88e8","#22cc22","#f0e020","#ff9944","#ff2020"]}}}},
    {"data":{"values":[{"x":487.5,"y":0.44,"y2":0.34}]},"mark":{"type":"rule","color":"#4a86c8","strokeWidth":1.5},"encoding":{"y2":{"field":"y2"}}},
    {"data":{"values":[{"x":487.5,"y":0.335}]},"mark":{"type":"point","shape":"triangle-down","filled":true,"color":"#4a86c8","size":30,"opacity":1}},
    {"data":{"values":[{"x":599.5,"y":0.236,"y2":0.34}]},"mark":{"type":"rule","color":"#e8743b","strokeWidth":1.5},"encoding":{"y2":{"field":"y2"}}},
    {"data":{"values":[{"x":599.5,"y":0.345}]},"mark":{"type":"point","shape":"triangle-up","filled":true,"color":"#e8743b","size":30,"opacity":1}}
   ]
  },
  {
   "hconcat":[
    {
     "width":169,"height":135,
     "title":{"text":"(b)","dx":-50,"dy":12},
     "encoding":{
      "x":{"field":"x","type":"quantitative","scale":{"domain":[581,731],"nice":false,"zero":false},"axis":{"values":[600,640,680,720],"title":"Wavelength (nm)","labelOverlap":false}},
      "y":{"field":"y","type":"quantitative","scale":{"domain":[-3,800],"nice":false,"zero":false},"axis":{"values":[0,200,400,600,800],"title":"Fluorescence intensity (A.U.)","labelOverlap":false}}
     },
     "layer":[
      {"data":{"name":"bc"},"mark":{"type":"line","interpolate":"monotone","strokeWidth":1.1,"clip":true},
       "encoding":{"color":{"field":"s","type":"nominal","legend":null,"scale":{"domain":["b01","b02","b03","b04","b05","b06","b07","b08","b09","b10","b11","b12","b13","b14","b15","b16"],"range":["#e0a8f0","#c878e8","#a848f0","#7a3ae8","#4a70e0","#3a98ee","#30c060","#22cc22","#d8e030","#f0e020","#ffd030","#ffb040","#ff9050","#ff6840","#ff4030","#ff0000"]}}}},
      {"data":{"values":[{"x":694,"y":326,"y2":500}]},"mark":{"type":"rule","color":"#333","strokeWidth":1.3},"encoding":{"y2":{"field":"y2"}}},
      {"data":{"values":[{"x":694,"y":505}]},"mark":{"type":"point","shape":"triangle-up","filled":true,"color":"#333","size":25,"opacity":1}},
      {"data":{"values":[{"x":694,"y":577,"label":"1.2 U/mL"},{"x":694,"y":281,"label":"0 U/mL"}]},"mark":{"type":"text","font":"Liberation Sans","fontSize":9,"fontWeight":"bold","color":"#000","align":"center","baseline":"middle"},"encoding":{"text":{"field":"label"}}}
     ]
    },
    {
     "width":165,"height":135,
     "title":{"text":"(c)","dx":-50,"dy":8},
     "encoding":{
      "x":{"field":"x","type":"quantitative","scale":{"domain":[-0.057,0.853],"nice":false,"zero":false},"axis":{"values":[0,0.2,0.4,0.6,0.8],"format":".1f","title":"β-gal (U/mL)","labelOverlap":false}},
      "y":{"field":"y","type":"quantitative","scale":{"domain":[-27.5,624],"nice":false,"zero":false},"axis":{"values":[0,200,400,600],"title":"Fluorescence intensity (A.U.)","labelOverlap":false}}
     },
     "layer":[
      {"data":{"name":"cl"},"mark":{"type":"line","color":"#ff2020","strokeWidth":1}},
      {"data":{"name":"cp"},"mark":{"type":"square","size":14,"color":"#111","opacity":1}},
      {"data":{"values":[{"x":0.37,"y":109,"label":"Y= 700.47x + 16.26"},{"x":0.37,"y":61,"label":"R² = 0.9923"}]},"mark":{"type":"text","font":"Liberation Sans","fontSize":8.5,"fontWeight":"bold","color":"#2233cc","align":"left","baseline":"middle"},"encoding":{"text":{"field":"label"}}}
     ]
    }
   ],
   "spacing":51,"bounds":"flush",
   "resolve":{"scale":{"color":"independent"},"legend":{"color":"independent"}}
  }
 ],
 "spacing":55,"bounds":"flush",
 "resolve":{"scale":{"color":"independent"},"legend":{"color":"independent"}}
},
{
 "vconcat":[
  {
   "hconcat":[
    {
     "width":169,"height":133,
     "title":{"text":"(d)","dx":-38,"dy":2.5},
     "encoding":{
      "x":{"field":"x","type":"quantitative","scale":{"domain":[400,650],"nice":false,"zero":false},"axis":{"values":[400,500,600],"title":"Wavelength (nm)","labelOverlap":false}},
      "y":{"field":"y","type":"quantitative","scale":{"domain":[-0.007,0.5],"nice":false,"zero":false},"axis":{"values":[0,0.2,0.4],"format":".1f","title":"Absorption (A.U.)","labelOverlap":false}}
     },
     "layer":[
      {"data":{"name":"dc"},"mark":{"type":"line","interpolate":"monotone","strokeWidth":1.1,"clip":true},
       "encoding":{"color":{"field":"s","type":"nominal","legend":null,"scale":{"domain":["d1","d2","d3","d4","d5","d6","d7","d8"],"range":["#a040f0","#6a40e0","#3a70e0","#40b0f0","#22cc22","#f0e020","#ff9944","#ff2020"]}}}},
      {"data":{"values":[{"x":525,"y":0.42,"y2":0.325}]},"mark":{"type":"rule","color":"#4a86c8","strokeWidth":1.5},"encoding":{"y2":{"field":"y2"}}},
      {"data":{"values":[{"x":525,"y":0.32}]},"mark":{"type":"point","shape":"triangle-down","filled":true,"color":"#4a86c8","size":30,"opacity":1}},
      {"data":{"values":[{"x":579,"y":0.346,"y2":0.45}]},"mark":{"type":"rule","color":"#e8743b","strokeWidth":1.5},"encoding":{"y2":{"field":"y2"}}},
      {"data":{"values":[{"x":579,"y":0.455}]},"mark":{"type":"point","shape":"triangle-up","filled":true,"color":"#e8743b","size":30,"opacity":1}}
     ]
    },
    {
     "hconcat":[
      {
       "width":172,"height":133,
       "title":{"text":"(e)","dx":-51,"dy":5.5},
       "encoding":{
        "x":{"field":"x","type":"quantitative","scale":{"domain":[580,740],"nice":false,"zero":false},"axis":{"values":[580,600,620,640,660,680,700,720,740],"title":"Wavelength (nm)","labelOverlap":false}},
        "y":{"field":"y","type":"quantitative","scale":{"domain":[-5,800],"nice":false,"zero":false},"axis":{"values":[0,100,200,300,400,500,600,700,800],"title":"Fluorescence intensity (A.U.)","labelOverlap":false}}
       },
       "layer":[
        {"data":{"name":"ec"},"mark":{"type":"line","interpolate":"monotone","strokeWidth":1.1,"clip":true},
         "encoding":{"color":{"field":"s","type":"nominal","legend":null,"scale":{"domain":["e01","e02","e03","e04","e05","e06","e07","e08","e09","e10","e11","e12","e13","e14"],"range":["#e0a0f0","#c070e8","#a050f0","#7a40e0","#4a80e0","#3a98ee","#33cc44","#22cc22","#e8e030","#ffdd22","#ffbb44","#ff9955","#ff6644","#ff0000"]}}}},
        {"data":{"values":[{"x":698,"y":379,"y2":552}]},"mark":{"type":"rule","color":"#333","strokeWidth":1.3},"encoding":{"y2":{"field":"y2"}}},
        {"data":{"values":[{"x":698,"y":557}]},"mark":{"type":"point","shape":"triangle-up","filled":true,"color":"#333","size":25,"opacity":1}},
        {"data":{"values":[{"x":698,"y":626,"label":"1.2 U/mL"},{"x":698,"y":330,"label":"0 U/mL"}]},"mark":{"type":"text","font":"Liberation Sans","fontSize":9,"fontWeight":"bold","color":"#000","align":"center","baseline":"middle"},"encoding":{"text":{"field":"label"}}}
       ]
      },
      {
       "width":168,"height":133,
       "title":{"text":"(f)","dx":-49,"dy":1.5},
       "encoding":{
        "x":{"field":"x","type":"quantitative","scale":{"domain":[-0.064,0.86],"nice":false,"zero":false},"axis":{"values":[0,0.2,0.4,0.6,0.8],"format":".1f","title":"β-gal (U/mL)","labelOverlap":false}},
        "y":{"field":"y","type":"quantitative","scale":{"domain":[-22,660],"nice":false,"zero":false},"axis":{"values":[0,200,400,600],"title":"Fluorescence intensity (A.U.)","labelOverlap":false}}
       },
       "layer":[
        {"data":{"name":"fl"},"mark":{"type":"line","color":"#ff2020","strokeWidth":1}},
        {"data":{"name":"fp"},"mark":{"type":"square","size":14,"color":"#111","opacity":1}},
        {"data":{"values":[{"x":0.365,"y":160,"label":"Y= 745.12x + 19.31"},{"x":0.365,"y":114,"label":"R² = 0.9921"}]},"mark":{"type":"text","font":"Liberation Sans","fontSize":8.5,"fontWeight":"bold","color":"#2233cc","align":"left","baseline":"middle"},"encoding":{"text":{"field":"label"}}}
       ]
      }
     ],
     "spacing":46,"bounds":"flush",
     "resolve":{"scale":{"color":"independent"},"legend":{"color":"independent"}}
    }
   ],
   "spacing":56,"bounds":"flush",
   "resolve":{"scale":{"color":"independent"},"legend":{"color":"independent"}}
  },
  {
   "hconcat":[
    {
     "width":164,"height":136.5,
     "title":{"text":"(g)","dx":-38,"dy":16},
     "data":{"name":"gd"},
     "mark":{"type":"point","filled":true,"size":28,"opacity":1},
     "encoding":{
      "x":{"field":"t","type":"quantitative","scale":{"domain":[-2.3,31.3],"nice":false,"zero":false},"axis":{"values":[0,5,10,15,20,25,30],"title":"Time (min)","labelOverlap":false,"titlePadding":3}},
      "y":{"field":"y","type":"quantitative","scale":{"domain":[-59,760],"nice":false,"zero":false},"axis":{"values":[0,100,200,300,400,500,600,700],"title":"Intensity at 641 nm","labelOverlap":false}},
      "color":{"field":"s","type":"nominal","scale":{"domain":["OEN-Gal + β-Gal","OELyso-Gal + β-Gal","OELyso-Gal","OEN-Gal"],"range":["#9b30ff","#ff2020","#8a8a8a","#c8c8c8"]},"legend":{"orient":"none","legendX":72,"legendY":68,"title":null,"labelFontSize":8.5,"labelFontWeight":"bold","labelColor":"#111","symbolSize":28,"rowPadding":0.5,"padding":0,"labelOffset":5}},
      "shape":{"field":"s","type":"nominal","scale":{"domain":["OEN-Gal + β-Gal","OELyso-Gal + β-Gal","OELyso-Gal","OEN-Gal"],"range":["circle","square","triangle-up","triangle-down"]},"legend":{"orient":"none","legendX":72,"legendY":68,"title":null,"labelFontSize":8.5,"labelFontWeight":"bold","labelColor":"#111","symbolSize":28,"rowPadding":0.5,"padding":0,"labelOffset":5}}
     }
    },
    {
     "width":383,"height":137,
     "title":{"text":"(h)","dx":-54,"dy":14.5},
     "data":{"name":"hd"},
     "encoding":{
      "x":{"field":"sp","type":"nominal","sort":null,"scale":{"paddingInner":0,"paddingOuter":0.54},"axis":{"labelAngle":-45,"labelFontSize":7.5,"title":"Species","titlePadding":3,"labelPadding":1,"labelOverlap":false}},
      "xOffset":{"field":"t","type":"nominal","sort":["g","r"],"scale":{"paddingInner":0,"paddingOuter":0.32}}
     },
     "layer":[
      {"mark":{"type":"bar","stroke":"#000","strokeWidth":0.6},
       "encoding":{
        "y":{"field":"v","type":"quantitative","scale":{"domain":[-3,800],"nice":false,"zero":false},"axis":{"values":[0,100,200,300,400,500,600,700,800],"title":"Intensity at 641 nm (A.U.)","labelOverlap":false}},
        "y2":{"datum":0},
        "color":{"field":"t","type":"nominal","legend":null,"scale":{"domain":["g","r"],"range":["#e6e6e6","#ff0000"]}}}},
      {"mark":{"type":"rule","color":"#000","strokeWidth":0.8},"encoding":{"y":{"field":"lo","type":"quantitative","axis":{"values":[0,100,200,300,400,500,600,700,800],"title":"Intensity at 641 nm (A.U.)","labelOverlap":false}},"y2":{"field":"hi"}}},
      {"mark":{"type":"tick","color":"#000","size":4,"thickness":0.8},"encoding":{"y":{"field":"hi","type":"quantitative","axis":{"values":[0,100,200,300,400,500,600,700,800],"title":"Intensity at 641 nm (A.U.)","labelOverlap":false}}}},
      {"mark":{"type":"tick","color":"#000","size":4,"thickness":0.8},"encoding":{"y":{"field":"lo","type":"quantitative","axis":{"values":[0,100,200,300,400,500,600,700,800],"title":"Intensity at 641 nm (A.U.)","labelOverlap":false}}}}
     ]
    }
   ],
   "spacing":64,"bounds":"flush",
   "resolve":{"scale":{"color":"independent","shape":"independent"},"legend":{"color":"independent","shape":"independent"}}
  }
 ],
 "spacing":5.5,
 "resolve":{"scale":{"color":"independent","shape":"independent"},"legend":{"color":"independent","shape":"independent"}}
}
]
}
